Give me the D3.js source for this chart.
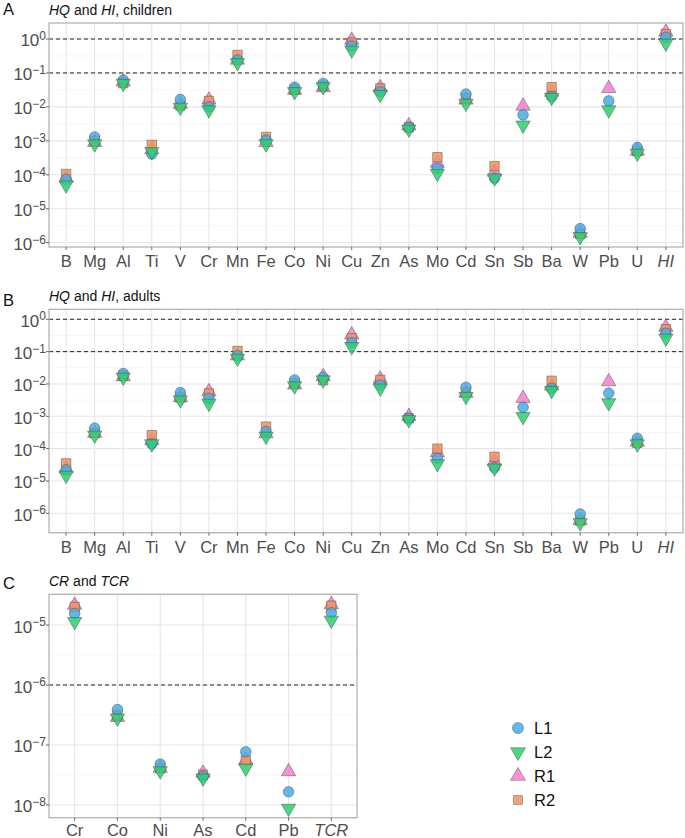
<!DOCTYPE html>
<html><head><meta charset="utf-8">
<script src="https://cdn.jsdelivr.net/npm/d3@7"></script>
<style>body{margin:0;background:#fff}svg{display:block;font-family:Arial,"Liberation Sans",sans-serif}</style>
</head><body><svg id="c" width="685" height="838"></svg>
<script>
const catsHQ = ["B","Mg","Al","Ti","V","Cr","Mn","Fe","Co","Ni","Cu","Zn","As","Mo","Cd","Sn","Sb","Ba","W","Pb","U","HI"];
const catsCR = ["Cr","Co","Ni","As","Cd","Pb","TCR"];
const seriesNames = ["L1","L2","R1","R2"];

const childL1 = [7.3e-5,1.3e-3,0.062,4.1e-4,0.0166,0.0101,0.24,1.05e-3,0.038,0.049,0.62,0.028,2.5e-3,1.55e-4,0.024,7.9e-5,5.8e-3,0.02,2.6e-6,0.015,6.4e-4,1.12];
const childL2 = [5e-5,8.1e-4,0.049,4.8e-4,0.0097,0.0081,0.2,8.1e-4,0.028,0.039,0.47,0.023,2.2e-3,1.1e-4,0.0127,8e-5,2.9e-3,0.019,1.5e-6,8.1e-3,4.3e-4,0.75];
const childR1 = [8e-5,9e-4,0.055,5.5e-4,0.012,0.016,0.24,9e-4,0.031,0.037,0.93,0.037,2.8e-3,2.2e-4,0.016,1.2e-4,0.0106,0.027,1.9e-6,0.035,5e-4,1.6];
const childR2 = [1.05e-4,1e-3,0.05,7.6e-4,0.011,0.015,0.34,1.3e-3,0.032,0.042,0.78,0.035,2.5e-3,3.3e-4,0.018,1.8e-4,null,0.038,1.8e-6,null,5e-4,1.4];

const adultL1 = [2.2e-5,4.3e-4,0.021,1.4e-4,5.4e-3,3.6e-3,0.074,3.4e-4,0.0133,0.016,0.19,9.3e-3,8.7e-4,5e-5,7.9e-3,2.6e-5,1.9e-3,7.4e-3,9.5e-7,5.2e-3,2.1e-4,0.37];
const adultL2 = [1.5e-5,2.6e-4,0.016,1.4e-4,3.2e-3,2.5e-3,0.062,2.4e-4,8.7e-3,0.0133,0.142,7.4e-3,7.8e-4,3.4e-5,4.1e-3,2.5e-5,9.8e-4,6.2e-3,5.1e-7,2.6e-3,1.4e-4,0.26];
const adultR1 = [2.4e-5,3e-4,0.017,1.8e-4,3.8e-3,5.8e-3,0.074,2.9e-4,9.3e-3,0.017,0.33,0.0142,1.0e-3,7.5e-5,5.2e-3,4e-5,3.6e-3,8.7e-3,6e-7,0.0118,1.6e-4,0.57];
const adultR2 = [3.5e-5,3e-4,0.018,2.6e-4,3.8e-3,5.1e-3,0.105,4.8e-4,0.0105,0.013,0.26,0.0133,8.7e-4,1.0e-4,5.4e-3,5.6e-5,null,0.0126,6e-7,null,1.5e-4,0.49];

const crL1 = [1.56e-5,3.9e-7,4.8e-8,3.0e-8,7.7e-8,1.66e-8,1.6e-5];
const crL2 = [1.14e-5,2.8e-7,3.7e-8,2.8e-8,4.1e-8,8.8e-9,1.2e-5];
const crR1 = [2.15e-5,2.9e-7,4.1e-8,3.4e-8,5.6e-8,3.6e-8,2.2e-5];
const crR2 = [2.0e-5,3.1e-7,4.1e-8,3.2e-8,5.6e-8,null,2.1e-5];

const ticksHQ = [0,-1,-2,-3,-4,-5,-6];
const ticksCR = [-5,-6,-7,-8];
const refHQ = [1,0.1];
const refCR = [1e-6];

const colors = {L1:"#45ADE6", L2:"#2CCF6F", R1:"#F57FD0", R2:"#F2915E"};
const shapes = {L1:"circle", L2:"down", R1:"up", R2:"square"};
const R0 = 5.3;

function shapePath(s, r){
  if(s==="circle"){ const p=d3.path();p.arc(0,0,r,0,2*Math.PI);p.closePath();return p.toString(); }
  const a=1.555*r, xc=1.347*r, yc=0.778*r;
  if(s==="up") return `M0,${-a}L${xc},${yc}L${-xc},${yc}Z`;
  if(s==="down") return `M0,${a}L${xc},${-yc}L${-xc},${-yc}Z`;
  const h=0.886*r; return `M${-h},${-h}H${h}V${h}H${-h}Z`;
}

const svg = d3.select("#c");

function panel(o){
  const g = svg.append("g");
  const x = d3.scalePoint().domain(o.cats).range([o.left,o.right]).padding(0.6);
  const y = d3.scaleLog().domain([Math.pow(10,o.lmin),Math.pow(10,o.lmax)]).range([o.bottom,o.top]);
  for(let k=Math.ceil(o.lmin-0.5);k<=o.lmax;k++){
    const v=k+0.5; if(v>o.lmin && v<o.lmax)
      g.append("line").attr("x1",o.left).attr("x2",o.right).attr("y1",y(Math.pow(10,v))).attr("y2",y(Math.pow(10,v))).attr("stroke","#f2f2f2").attr("stroke-width",0.6);
  }
  o.ticks.forEach(t=>g.append("line").attr("x1",o.left).attr("x2",o.right).attr("y1",y(Math.pow(10,t))).attr("y2",y(Math.pow(10,t))).attr("stroke","#e6e6e6").attr("stroke-width",1.1));
  o.cats.forEach(c=>g.append("line").attr("x1",x(c)).attr("x2",x(c)).attr("y1",o.top).attr("y2",o.bottom).attr("stroke","#e6e6e6").attr("stroke-width",1.1));
  o.refs.forEach(r=>g.append("line").attr("x1",o.left).attr("x2",o.right).attr("y1",y(r)).attr("y2",y(r)).attr("stroke","#222").attr("stroke-width",1).attr("stroke-dasharray","4,3"));
  ["R1","R2","L1","L2"].forEach(s=>{
    const vals=o.data[s];
    g.selectAll(null).data(o.cats.map((c,i)=>({c,v:vals[i]})).filter(d=>d.v!=null)).enter()
      .append("path").attr("d",shapePath(shapes[s],R0))
      .attr("transform",d=>`translate(${x(d.c)},${y(d.v)})`)
      .attr("fill",colors[s]).attr("fill-opacity",0.85).attr("stroke","#4a4a4a").attr("stroke-opacity",0.8).attr("stroke-width",0.6);
  });
  g.append("rect").attr("x",o.left).attr("y",o.top).attr("width",o.right-o.left).attr("height",o.bottom-o.top).attr("fill","none").attr("stroke","#b3b3b3").attr("stroke-width",1.3);
  o.ticks.forEach(t=>{
    const yy=y(Math.pow(10,t));
    g.append("line").attr("x1",o.left-3).attr("x2",o.left).attr("y1",yy).attr("y2",yy).attr("stroke","#666");
    const tx=g.append("text").attr("x",o.left-3).attr("y",yy+7.5).attr("text-anchor","end").attr("fill","#4d4d4d").attr("font-size",17);
    tx.append("tspan").text("10");
    tx.append("tspan").attr("dy",-6.5).attr("font-size",12).text(t===0?"0":"\u2212"+Math.abs(t));
  });
  o.cats.forEach(c=>{
    g.append("line").attr("x1",x(c)).attr("x2",x(c)).attr("y1",o.bottom).attr("y2",o.bottom+3).attr("stroke","#666");
    g.append("text").attr("x",x(c)).attr("y",o.bottom+o.xlab).attr("text-anchor","middle").attr("fill","#4d4d4d").attr("font-size",16.5)
      .attr("font-style",o.italicCats.includes(c)?"italic":"normal").text(c);
  });
  g.append("text").attr("x",3).attr("y",o.top-o.letterOff).attr("font-size",16.5).attr("fill","#111").text(o.letter);
  const tt=g.append("text").attr("x",o.left).attr("y",o.top-8).attr("font-size",14).attr("fill","#111");
  o.title.forEach(p=>tt.append("tspan").attr("font-style",p[1]?"italic":"normal").text(p[0]));
}

panel({cats:catsHQ,left:49,right:683,top:23,bottom:247,lmin:-6.127,lmax:0.471,ticks:ticksHQ,refs:refHQ,xlab:20,letterOff:8,
  data:{L1:childL1,L2:childL2,R1:childR1,R2:childR2},italicCats:["HI"],letter:"A",
  title:[["HQ",1],[" and ",0],["HI",1],[", children",0]]});
panel({cats:catsHQ,left:49,right:683,top:309.3,bottom:532.7,lmin:-6.60,lmax:0.309,ticks:ticksHQ,refs:refHQ,xlab:20,letterOff:3,
  data:{L1:adultL1,L2:adultL2,R1:adultR1,R2:adultR2},italicCats:["HI"],letter:"B",
  title:[["HQ",1],[" and ",0],["HI",1],[", adults",0]]});
panel({cats:catsCR,left:49,right:357,top:594.3,bottom:817.7,lmin:-8.212,lmax:-4.488,ticks:ticksCR,refs:refCR,xlab:18.5,letterOff:5,
  data:{L1:crL1,L2:crL2,R1:crR1,R2:crR2},italicCats:["TCR"],letter:"C",
  title:[["CR",1],[" and ",0],["TCR",1]]});

const leg = svg.append("g");
seriesNames.forEach((s,i)=>{
  const yy=728+i*24;
  leg.append("path").attr("d",shapePath(shapes[s],s==="R2"?R0*0.95:R0*1.05)).attr("transform",`translate(518,${yy})`)
    .attr("fill",colors[s]).attr("fill-opacity",0.85).attr("stroke","#4a4a4a").attr("stroke-opacity",0.7).attr("stroke-width",0.6);
  leg.append("text").attr("x",534).attr("y",yy+6).attr("font-size",16.5).attr("fill","#111").text(s);
});
</script></body></html>
